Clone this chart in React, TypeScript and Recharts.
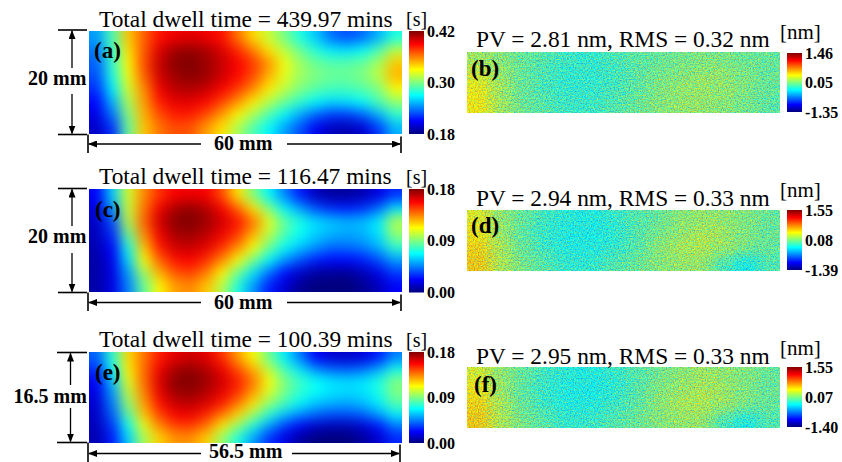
import { Bar, BarChart, Scatter, ScatterChart, XAxis, YAxis } from 'recharts'

// colour levels, 0 = bottom of the colour bar, 1 = top
const dwellA = [
  [.28, .45, .68, .78, .86, .89, .90, .89, .86, .76, .66, .57, .49, .40, .32, .23, .20, .23, .30, .40],
  [.24, .43, .65, .79, .91, .97, .98, .96, .91, .84, .75, .65, .56, .48, .41, .36, .35, .38, .45, .56],
  [.22, .42, .63, .80, .93, .99, 1.0, .97, .93, .88, .82, .73, .61, .53, .48, .46, .46, .48, .54, .68],
  [.20, .40, .61, .78, .92, .97, .99, .97, .92, .87, .80, .70, .60, .53, .50, .48, .48, .50, .56, .70],
  [.17, .36, .58, .74, .89, .94, .95, .93, .88, .82, .74, .64, .56, .50, .46, .44, .44, .46, .50, .62],
  [.13, .30, .54, .72, .85, .90, .90, .87, .81, .73, .64, .55, .48, .42, .37, .34, .35, .38, .45, .52],
  [.10, .24, .50, .70, .80, .85, .85, .80, .72, .63, .54, .45, .37, .29, .22, .18, .18, .22, .30, .42],
  [.07, .17, .47, .68, .76, .80, .79, .72, .65, .54, .45, .37, .28, .20, .11, .06, .05, .08, .18, .30],
]
const dwellC = [
  [.12, .33, .58, .74, .83, .88, .89, .88, .80, .65, .50, .37, .25, .15, .06, .03, .03, .05, .10, .17],
  [.09, .27, .57, .76, .89, .96, .98, .95, .88, .78, .65, .50, .37, .28, .20, .16, .15, .17, .23, .35],
  [.07, .20, .55, .78, .92, .99, 1.0, .97, .92, .86, .76, .60, .47, .40, .34, .32, .30, .31, .36, .55],
  [.06, .17, .48, .74, .89, .96, .97, .94, .89, .82, .70, .56, .45, .38, .33, .30, .29, .30, .35, .52],
  [.05, .13, .40, .68, .85, .92, .93, .90, .83, .74, .62, .48, .38, .32, .27, .23, .23, .25, .30, .42],
  [.04, .11, .34, .62, .78, .86, .88, .83, .74, .62, .49, .37, .27, .20, .15, .13, .13, .15, .20, .28],
  [.04, .10, .28, .53, .70, .79, .81, .75, .63, .48, .35, .23, .13, .07, .03, .02, .02, .05, .10, .18],
  [.04, .10, .25, .47, .63, .72, .74, .68, .55, .40, .27, .15, .08, .02, .00, .00, .00, .02, .06, .12],
]
const dwellE = [
  [.22, .42, .66, .76, .85, .90, .92, .90, .83, .72, .62, .48, .36, .24, .12, .08, .07, .09, .15, .25],
  [.17, .38, .64, .77, .89, .96, .98, .95, .89, .80, .70, .56, .44, .35, .26, .22, .21, .23, .29, .39],
  [.12, .32, .60, .77, .91, .99, 1.0, .97, .92, .85, .76, .62, .50, .43, .38, .35, .34, .35, .40, .50],
  [.10, .28, .56, .75, .90, .97, .98, .95, .90, .83, .72, .59, .49, .42, .38, .35, .34, .35, .40, .50],
  [.08, .25, .52, .72, .86, .93, .94, .91, .85, .76, .65, .52, .44, .37, .32, .30, .29, .31, .36, .46],
  [.07, .22, .46, .68, .81, .88, .89, .84, .76, .66, .53, .41, .32, .26, .22, .20, .20, .22, .28, .36],
  [.06, .18, .39, .60, .74, .81, .82, .76, .64, .52, .40, .28, .18, .12, .07, .05, .05, .08, .14, .24],
  [.05, .15, .33, .54, .67, .73, .73, .67, .52, .40, .28, .17, .10, .03, .00, .00, .00, .03, .08, .16],
]
const residualB = [
  [.54, .52, .49, .47, .45, .44, .46, .48, .49, .50, .51, .51, .49, .49],
  [.59, .54, .49, .46, .44, .44, .45, .48, .50, .52, .53, .53, .51, .49],
  [.62, .54, .49, .46, .44, .44, .46, .48, .51, .53, .54, .53, .51, .49],
  [.63, .54, .50, .47, .45, .45, .47, .49, .52, .53, .53, .52, .50, .48],
]
const residualD = [
  [.60, .53, .49, .45, .43, .42, .44, .47, .49, .52, .53, .53, .51, .49],
  [.63, .54, .48, .44, .42, .41, .43, .47, .50, .53, .55, .54, .51, .49],
  [.65, .55, .49, .45, .42, .42, .44, .47, .52, .55, .56, .54, .51, .49],
  [.66, .55, .51, .47, .44, .44, .47, .49, .52, .53, .53, .46, .40, .47],
]
const residualF = [
  [.59, .53, .49, .45, .43, .42, .44, .47, .50, .52, .54, .53, .51, .49],
  [.63, .54, .48, .44, .42, .41, .43, .47, .51, .54, .55, .54, .51, .49],
  [.65, .55, .49, .45, .42, .42, .45, .48, .52, .55, .56, .54, .51, .49],
  [.66, .55, .51, .47, .44, .45, .47, .49, .52, .53, .53, .46, .41, .47],
]

const ticksA = [0.18, 0.3, 0.42]
const ticksC = [0, 0.09, 0.18]
const ticksE = [0, 0.09, 0.18]
const ticksB = [-1.35, 0.05, 1.46]
const ticksD = [-1.39, 0.08, 1.55]
const ticksF = [-1.4, 0.07, 1.55]

const SERIF = '"Liberation Serif", serif'
const JET = [
  [0, 0, 0, 127],
  [0.125, 0, 0, 255],
  [0.375, 0, 255, 255],
  [0.625, 255, 255, 0],
  [0.875, 255, 0, 0],
  [1, 127, 0, 0],
]
const BLEED = 30

function jet(level: number) {
  let i = 0
  while (i < JET.length - 2 && level > JET[i + 1][0]) i++
  const a = JET[i]
  const b = JET[i + 1]
  const t = Math.min(1, Math.max(0, (level - a[0]) / (b[0] - a[0])))
  const c = [1, 2, 3].map((k) => Math.round(a[k] + (b[k] - a[k]) * t))
  return `rgb(${c[0]},${c[1]},${c[2]})`
}

function toCells(levels: number[][]) {
  return levels.flatMap((row, r) =>
    row.map((level, c) => ({ x: c + 0.5, y: r + 0.5, level, r, c })),
  )
}

interface MapProps {
  left: number
  top: number
  width: number
  height: number
  levels: number[][]
  filter: string
}

function HeatMap({ left, top, width, height, levels, filter }: MapProps) {
  const rows = levels.length
  const cols = levels[0].length
  const w = width / cols
  const h = height / rows
  // edge cells run on under the clip so the blur does not fade at the border
  const cell = (p: any) => {
    const { r, c, level } = p.payload
    const x0 = p.cx - w / 2 - (c === 0 ? BLEED : 0)
    const y0 = p.cy - h / 2 - (r === 0 ? BLEED : 0)
    const x1 = p.cx + w / 2 + (c === cols - 1 ? BLEED : 1)
    const y1 = p.cy + h / 2 + (r === rows - 1 ? BLEED : 1)
    return <rect x={x0} y={y0} width={x1 - x0} height={y1 - y0} fill={jet(level)} />
  }
  return (
    <div style={{ position: 'absolute', left, top, width, height, overflow: 'hidden' }}>
      <div style={{ position: 'absolute', left: -BLEED, top: -BLEED, filter: `url(#${filter})` }}>
        <ScatterChart
          width={width + BLEED * 2}
          height={height + BLEED * 2}
          margin={{ top: BLEED, right: BLEED, bottom: BLEED, left: BLEED }}
        >
          <XAxis type="number" dataKey="x" domain={[0, cols]} hide />
          <YAxis type="number" dataKey="y" domain={[0, rows]} reversed hide />
          <Scatter data={toCells(levels)} shape={cell} isAnimationActive={false} />
        </ScatterChart>
      </div>
    </div>
  )
}

function ColorBar({ left, top, height, ticks }: { left: number; top: number; height: number; ticks: number[] }) {
  const domain = [ticks[0], ticks[2]]
  return (
    <div style={{ position: 'absolute', left, top: top - 10 }}>
      <BarChart
        width={62}
        height={height + 20}
        data={[{ name: 'scale', range: domain }]}
        margin={{ top: 10, right: 0, bottom: 10, left: 0 }}
        barCategoryGap={0}
      >
        <XAxis dataKey="name" hide />
        <YAxis
          orientation="right"
          width={47}
          domain={domain}
          ticks={ticks}
          interval={0}
          axisLine={false}
          tickLine={false}
          tickMargin={0}
          tickFormatter={(v: number) => v.toFixed(2)}
          tick={{ fontFamily: SERIF, fontWeight: 700, fontSize: 16, fill: '#000', dx: -3 }}
        />
        <Bar dataKey="range" fill="url(#jetScale)" isAnimationActive={false} />
      </BarChart>
    </div>
  )
}

function Label({ x, y, size, bold, children }: any) {
  return (
    <text x={x} y={y} fontSize={size} fontFamily={SERIF} fontWeight={bold ? 700 : 400} fill="#000">
      {children}
    </text>
  )
}

function Seg({ x1, y1, x2, y2, start, end, w = 1.3 }: any) {
  return (
    <line
      x1={x1}
      y1={y1}
      x2={x2}
      y2={y2}
      stroke="#000"
      strokeWidth={w}
      markerStart={start ? 'url(#head)' : undefined}
      markerEnd={end ? 'url(#head)' : undefined}
    />
  )
}

function Dimensions({ y0, y1, tickX, arrowX, gap, hY, hEnd, hLeft, hRight, tickBottom }: any) {
  return (
    <g>
      <Seg x1={tickX} y1={y0} x2={87} y2={y0} w={1.6} />
      <Seg x1={tickX} y1={y1} x2={87} y2={y1} w={1.6} />
      <Seg x1={arrowX} y1={y0 + 1} x2={arrowX} y2={gap[0]} start />
      <Seg x1={arrowX} y1={gap[1]} x2={arrowX} y2={y1 - 1} end />
      <Seg x1={88} y1={y1} x2={88} y2={tickBottom} w={1.6} />
      <Seg x1={hEnd} y1={y1 + 2} x2={hEnd} y2={tickBottom} w={1.6} />
      <Seg x1={89} y1={hY} x2={hLeft} y2={hY} start />
      <Seg x1={hRight} y1={hY} x2={hEnd - 1} y2={hY} end />
    </g>
  )
}

export default function App() {
  return (
    <div style={{ position: 'absolute', left: 0, top: 0, width: 842, height: 462, background: '#fff', overflow: 'hidden' }}>
      <svg width={0} height={0} style={{ position: 'absolute' }}>
        <defs>
          <linearGradient id="jetScale" x1="0" y1="1" x2="0" y2="0">
            {JET.map((s) => (
              <stop key={s[0]} offset={s[0]} stopColor={jet(s[0])} />
            ))}
          </linearGradient>
          <filter id="smooth" x="0" y="0" width="100%" height="100%" colorInterpolationFilters="sRGB">
            <feGaussianBlur stdDeviation="6.5" />
          </filter>
          {/* fine grain of the residual maps is a rendering texture on top of the read levels */}
          <filter id="grain" x="0" y="0" width="100%" height="100%" colorInterpolationFilters="sRGB">
            <feGaussianBlur in="SourceGraphic" stdDeviation="7" result="base" />
            <feTurbulence type="fractalNoise" baseFrequency="0.75" numOctaves={2} seed={4} result="noise" />
            <feColorMatrix in="noise" type="matrix" values="1 0 0 0 -0.05  0 0.6 0 0 0.12  -1 0 0 0 1.05  0 0 0 0 1" result="tint" />
            <feComposite in="base" in2="tint" operator="arithmetic" k1="0" k2="1" k3="1.2" k4="-0.6" result="mix" />
            <feGaussianBlur in="mix" stdDeviation="0.45" />
          </filter>
        </defs>
      </svg>

      <HeatMap left={88.5} top={31} width={313} height={103} levels={dwellA} filter="smooth" />
      <HeatMap left={88.5} top={188.5} width={313} height={103.5} levels={dwellC} filter="smooth" />
      <HeatMap left={88.5} top={352} width={313} height={91} levels={dwellE} filter="smooth" />
      <HeatMap left={466.5} top={52} width={313.5} height={61} levels={residualB} filter="grain" />
      <HeatMap left={466.5} top={210} width={313.5} height={61} levels={residualD} filter="grain" />
      <HeatMap left={466.5} top={367} width={313.5} height={61} levels={residualF} filter="grain" />

      <ColorBar left={408.5} top={31} height={103} ticks={ticksA} />
      <ColorBar left={408.5} top={188.5} height={103.5} ticks={ticksC} />
      <ColorBar left={408.5} top={352} height={91} ticks={ticksE} />
      <ColorBar left={787} top={53} height={59} ticks={ticksB} />
      <ColorBar left={787} top={210} height={60} ticks={ticksD} />
      <ColorBar left={787} top={367} height={60} ticks={ticksF} />

      <svg width={842} height={462} style={{ position: 'absolute', left: 0, top: 0 }}>
        <defs>
          <marker id="head" markerWidth="9" markerHeight="7" refX="8" refY="3.5" orient="auto-start-reverse" markerUnits="userSpaceOnUse">
            <path d="M0,0 L9,3.5 L0,7 Z" fill="#000" />
          </marker>
        </defs>

        <Label x={99} y={27} size={23.4}>Total dwell time = 439.97 mins</Label>
        <Label x={99} y={184} size={23.4}>Total dwell time = 116.47 mins</Label>
        <Label x={99} y={347} size={23.4}>Total dwell time = 100.39 mins</Label>
        <Label x={406} y={26} size={20}>[s]</Label>
        <Label x={406} y={184} size={20}>[s]</Label>
        <Label x={406} y={347} size={20}>[s]</Label>

        <Label x={476} y={47} size={23.4}>PV = 2.81 nm, RMS = 0.32 nm</Label>
        <Label x={476} y={206} size={23.4}>PV = 2.94 nm, RMS = 0.33 nm</Label>
        <Label x={476} y={364} size={23.4}>PV = 2.95 nm, RMS = 0.33 nm</Label>
        <Label x={780} y={39} size={21}>[nm]</Label>
        <Label x={780} y={197} size={21}>[nm]</Label>
        <Label x={780} y={355} size={21}>[nm]</Label>

        <Label x={94} y={58} size={23} bold>(a)</Label>
        <Label x={95} y={217} size={23} bold>(c)</Label>
        <Label x={95} y={380} size={23} bold>(e)</Label>
        <Label x={471} y={76} size={23} bold>(b)</Label>
        <Label x={471} y={233} size={23} bold>(d)</Label>
        <Label x={474} y={392} size={23} bold>(f)</Label>

        <Label x={28} y={85} size={20} bold>20 mm</Label>
        <Label x={28} y={243} size={20} bold>20 mm</Label>
        <Label x={13.5} y={403} size={20} bold>16.5 mm</Label>
        <Label x={214} y={150} size={20} bold>60 mm</Label>
        <Label x={214} y={309} size={20} bold>60 mm</Label>
        <Label x={209} y={458} size={20} bold>56.5 mm</Label>

        <Dimensions y0={30} y1={134.5} tickX={58} arrowX={72} gap={[68, 94]} hY={144} hEnd={401} hLeft={201} hRight={287} tickBottom={153} />
        <Dimensions y0={188.5} y1={292.5} tickX={58} arrowX={72} gap={[226, 253]} hY={302.5} hEnd={401} hLeft={201} hRight={287} tickBottom={311} />
        <Dimensions y0={352.5} y1={442.5} tickX={57} arrowX={70.5} gap={[385, 408]} hY={453.5} hEnd={400} hLeft={201} hRight={292} tickBottom={462} />
      </svg>
    </div>
  )
}
